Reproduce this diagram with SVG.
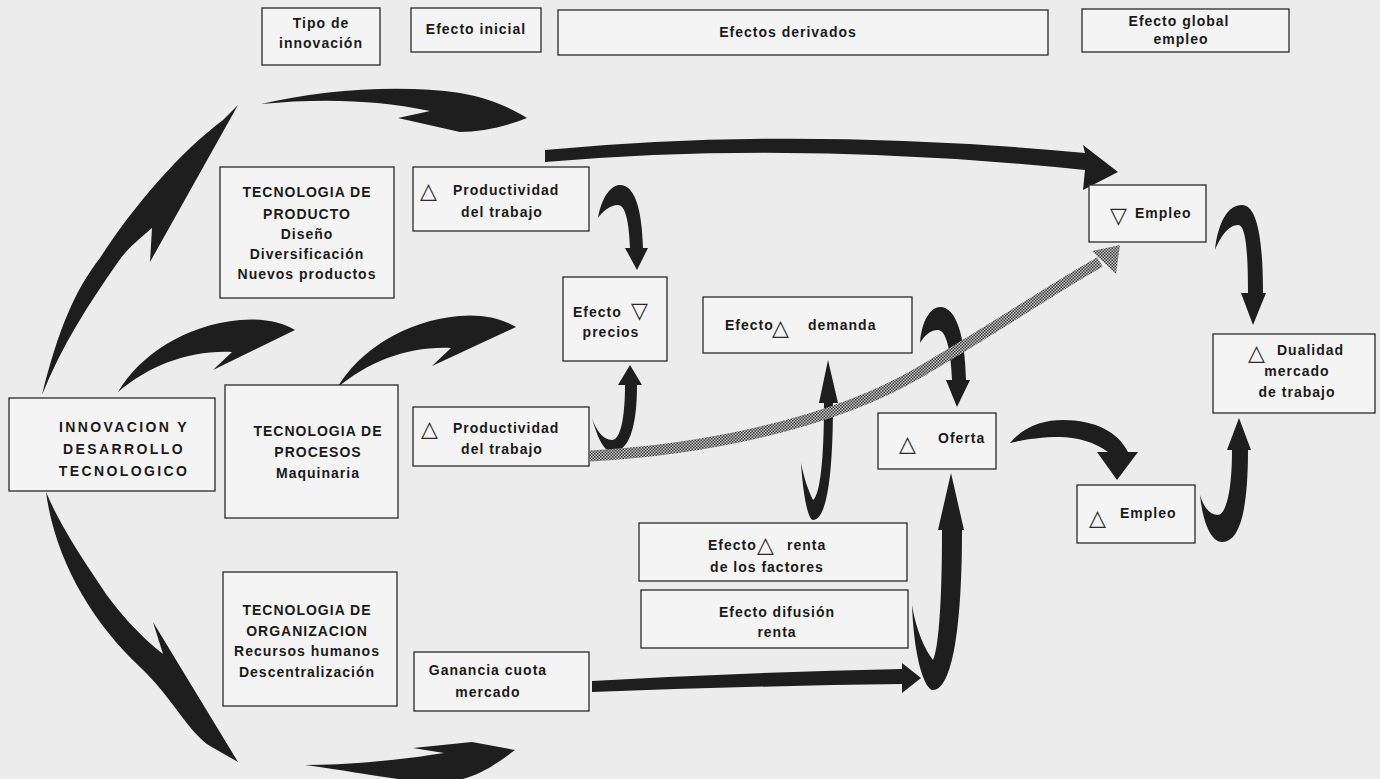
<svg xmlns="http://www.w3.org/2000/svg" width="1380" height="779" viewBox="0 0 1380 779">
<defs>
<pattern id="hatch" width="3" height="3" patternUnits="userSpaceOnUse">
<rect width="3" height="3" fill="#c8c8c8"/>
<rect x="0" y="0" width="1.5" height="1.5" fill="#3a3a3a"/>
<rect x="1.5" y="1.5" width="1.5" height="1.5" fill="#3a3a3a"/>
</pattern>
<style>
.bx{fill:#f4f4f4;stroke:#2a2a2a;stroke-width:1.3}
.t{font-family:"Liberation Sans",Arial,sans-serif;font-weight:bold;font-size:14px;letter-spacing:1px;fill:#1a1a1a}
.c{text-anchor:middle}
.w{letter-spacing:2.4px}
.sym{font-family:"DejaVu Sans",sans-serif;font-weight:normal;font-size:22px;letter-spacing:0;fill:#2a2a2a}
.sw{fill:#1e1e1e}
</style>
</defs>
<rect width="1380" height="779" fill="#ececec"/>

<g id="connectors">
<path class="sw" d="M42,395 C58,330 75,290 100,258 C132,208 180,152 223,120 L238,105 L150,262 L152,228 C138,240 126,250 118,262 C88,305 62,345 42,395 Z"/>
<path class="sw" d="M46,492 C55,560 92,622 140,667 C172,697 188,732 210,746 L238,762 L153,622 L163,654 C140,636 116,610 100,585 C80,555 60,525 46,492 Z"/>
<path class="sw" d="M261,104 C320,90 400,84 460,93 C490,98 510,108 527,118 C505,127 480,132 460,132 L398,118 L430,111 C380,100 320,98 261,104 Z"/>
<path class="sw" d="M118,392 C140,355 185,325 240,320 C262,318 282,322 295,330 L213,370 L232,352 C190,350 150,365 118,392 Z"/>
<path class="sw" d="M337,388 C359,351 404,321 459,316 C481,314 501,318 516,327 L432,366 L451,348 C409,346 369,361 337,388 Z"/>
<path class="sw" d="M305,765 C360,772 400,782 440,782 C472,782 495,765 515,750 L472,742 L413,748 L444,753 C400,760 350,765 305,765 Z"/>
<path class="sw" d="M545,150 Q800,126 1085,153 L1083,145 L1118,172 L1083,190 L1085,170 Q800,140 545,162 Z"/>
<path class="sw" d="M592,681 Q750,672 902,669 L902,663 L921,678 L902,693 L902,684 Q750,686 592,692 Z"/>
<path class="sw" d="M598,218 C602,195 612,185 620,185 C635,185 642,210 643,248 L648,248 L637,270 L625,248 L630,248 C629,220 625,205 618,205 C610,205 602,212 598,218 Z"/>
<path class="sw" d="M592,418 C598,440 605,452 612,452 C628,452 637,430 637,385 L642,385 L630,365 L618,385 L625,385 C625,420 620,440 612,440 C603,440 596,430 592,418 Z"/>
<path class="sw" d="M801,463 C803,495 808,520 813,520 C826,520 833,480 833,403 L838,403 L828,360 L819,403 L824,403 C824,460 820,495 813,500 C808,490 804,478 801,463 Z"/>
<path class="sw" d="M920,343 C922,318 932,307 940,307 C956,307 965,335 966,380 L970,380 L957,407 L946,380 L952,380 C951,350 946,330 938,330 C930,330 924,336 920,343 Z"/>
<path class="sw" d="M912,605 C914,660 925,690 933,690 C950,690 962,640 962,530 L964,530 L951,473 L938,530 L942,530 C942,610 938,650 933,660 C925,650 916,630 912,605 Z"/>
<path class="sw" d="M1010,443 C1025,425 1045,420 1063,420 C1095,420 1118,432 1128,452 L1138,452 L1117,480 L1097,452 L1108,452 C1095,442 1075,437 1060,437 C1040,437 1022,440 1010,443 Z"/>
<path class="sw" d="M1200,495 C1203,525 1212,542 1222,542 C1240,542 1248,510 1248,450 L1251,450 L1239,418 L1227,450 L1232,450 C1232,495 1225,515 1218,515 C1210,515 1204,508 1200,495 Z"/>
<path class="sw" d="M1215,250 C1218,222 1228,205 1242,205 C1255,205 1263,230 1263,293 L1266,293 L1253,325 L1241,293 L1248,293 C1248,245 1245,225 1238,225 C1228,225 1220,238 1215,250 Z"/>
<path d="M590,456 C700,450 830,425 920,372 S1050,290 1100,262" fill="none" stroke="url(#hatch)" stroke-width="11"/>
<polygon points="1120,245 1092,251 1116,274" fill="url(#hatch)"/>
</g>

<g id="n-tipo"><rect class="bx" x="262" y="8" width="118" height="57"/>
<text class="t c" x="321" y="28">Tipo de</text><text class="t c" x="321" y="48">innovación</text></g>
<g id="n-inicial"><rect class="bx" x="411" y="8" width="130" height="44"/>
<text class="t c" x="476" y="34">Efecto inicial</text></g>
<g id="n-derivados"><rect class="bx" x="558" y="10" width="490" height="45"/>
<text class="t c" x="788" y="37">Efectos derivados</text></g>
<g id="n-global"><rect class="bx" x="1082" y="9" width="207" height="43"/>
<text class="t c" x="1179" y="26">Efecto global</text><text class="t c" x="1181" y="44">empleo</text></g>

<g id="n-producto"><rect class="bx" x="220" y="167" width="174" height="131"/>
<text class="t c" x="307" y="197">TECNOLOGIA DE</text>
<text class="t c" x="307" y="219">PRODUCTO</text>
<text class="t c" x="307" y="239">Diseño</text>
<text class="t c" x="307" y="259">Diversificación</text>
<text class="t c" x="307" y="279">Nuevos productos</text></g>

<g id="n-prod1"><rect class="bx" x="413" y="167" width="176" height="64"/>
<text class="t" y="198"><tspan class="sym" x="420">△</tspan><tspan x="453" y="195">Productividad</tspan></text>
<text class="t c" x="502" y="217">del trabajo</text></g>

<g id="n-precios"><rect class="bx" x="563" y="277" width="104" height="84"/>
<text class="t" y="317"><tspan x="573">Efecto</tspan><tspan class="sym" x="631" y="318">▽</tspan></text>
<text class="t c" x="611" y="337">precios</text></g>

<g id="n-demanda"><rect class="bx" x="703" y="297" width="209" height="56"/>
<text class="t" y="330"><tspan x="725">Efecto</tspan><tspan class="sym" x="772" y="335">△</tspan><tspan x="808" y="330">demanda</tspan></text></g>

<g id="n-empleo1"><rect class="bx" x="1089" y="185" width="117" height="57"/>
<text class="t" y="218"><tspan class="sym" x="1110" y="223">▽</tspan><tspan x="1135" y="218">Empleo</tspan></text></g>

<g id="n-dualidad"><rect class="bx" x="1213" y="334" width="162" height="79"/>
<text class="t" y="355"><tspan class="sym" x="1248" y="360">△</tspan><tspan x="1277" y="355">Dualidad</tspan></text>
<text class="t c" x="1297" y="376">mercado</text>
<text class="t c" x="1297" y="397">de trabajo</text></g>

<g id="n-innovacion"><rect class="bx" x="9" y="398" width="206" height="93"/>
<text class="t c w" x="124" y="432">INNOVACION Y</text>
<text class="t c w" x="124" y="454">DESARROLLO</text>
<text class="t c w" x="124" y="476">TECNOLOGICO</text></g>

<g id="n-procesos"><rect class="bx" x="225" y="385" width="173" height="133"/>
<text class="t c" x="318" y="436">TECNOLOGIA DE</text>
<text class="t c" x="318" y="457">PROCESOS</text>
<text class="t c" x="318" y="478">Maquinaria</text></g>

<g id="n-prod2"><rect class="bx" x="413" y="407" width="176" height="59"/>
<text class="t" y="433"><tspan class="sym" x="421" y="436">△</tspan><tspan x="453" y="433">Productividad</tspan></text>
<text class="t c" x="502" y="454">del trabajo</text></g>

<g id="n-oferta"><rect class="bx" x="878" y="413" width="118" height="56"/>
<text class="t" y="443"><tspan class="sym" x="899" y="451">△</tspan><tspan x="938" y="443">Oferta</tspan></text></g>

<g id="n-empleo2"><rect class="bx" x="1077" y="485" width="118" height="58"/>
<text class="t" y="518"><tspan class="sym" x="1089" y="525">△</tspan><tspan x="1120" y="518">Empleo</tspan></text></g>

<g id="n-renta"><rect class="bx" x="639" y="523" width="268" height="58"/>
<text class="t" y="550"><tspan x="708">Efecto</tspan><tspan class="sym" x="757" y="552">△</tspan><tspan x="787" y="550">renta</tspan></text>
<text class="t c" x="767" y="572">de los factores</text></g>

<g id="n-difusion"><rect class="bx" x="641" y="590" width="267" height="58"/>
<text class="t c" x="777" y="617">Efecto difusión</text>
<text class="t c" x="777" y="637">renta</text></g>

<g id="n-organizacion"><rect class="bx" x="223" y="572" width="174" height="134"/>
<text class="t c" x="307" y="615">TECNOLOGIA DE</text>
<text class="t c" x="307" y="636">ORGANIZACION</text>
<text class="t c" x="307" y="656">Recursos humanos</text>
<text class="t c" x="307" y="677">Descentralización</text></g>

<g id="n-ganancia"><rect class="bx" x="414" y="652" width="175" height="59"/>
<text class="t c" x="488" y="675">Ganancia cuota</text>
<text class="t c" x="488" y="697">mercado</text></g>
</svg>
